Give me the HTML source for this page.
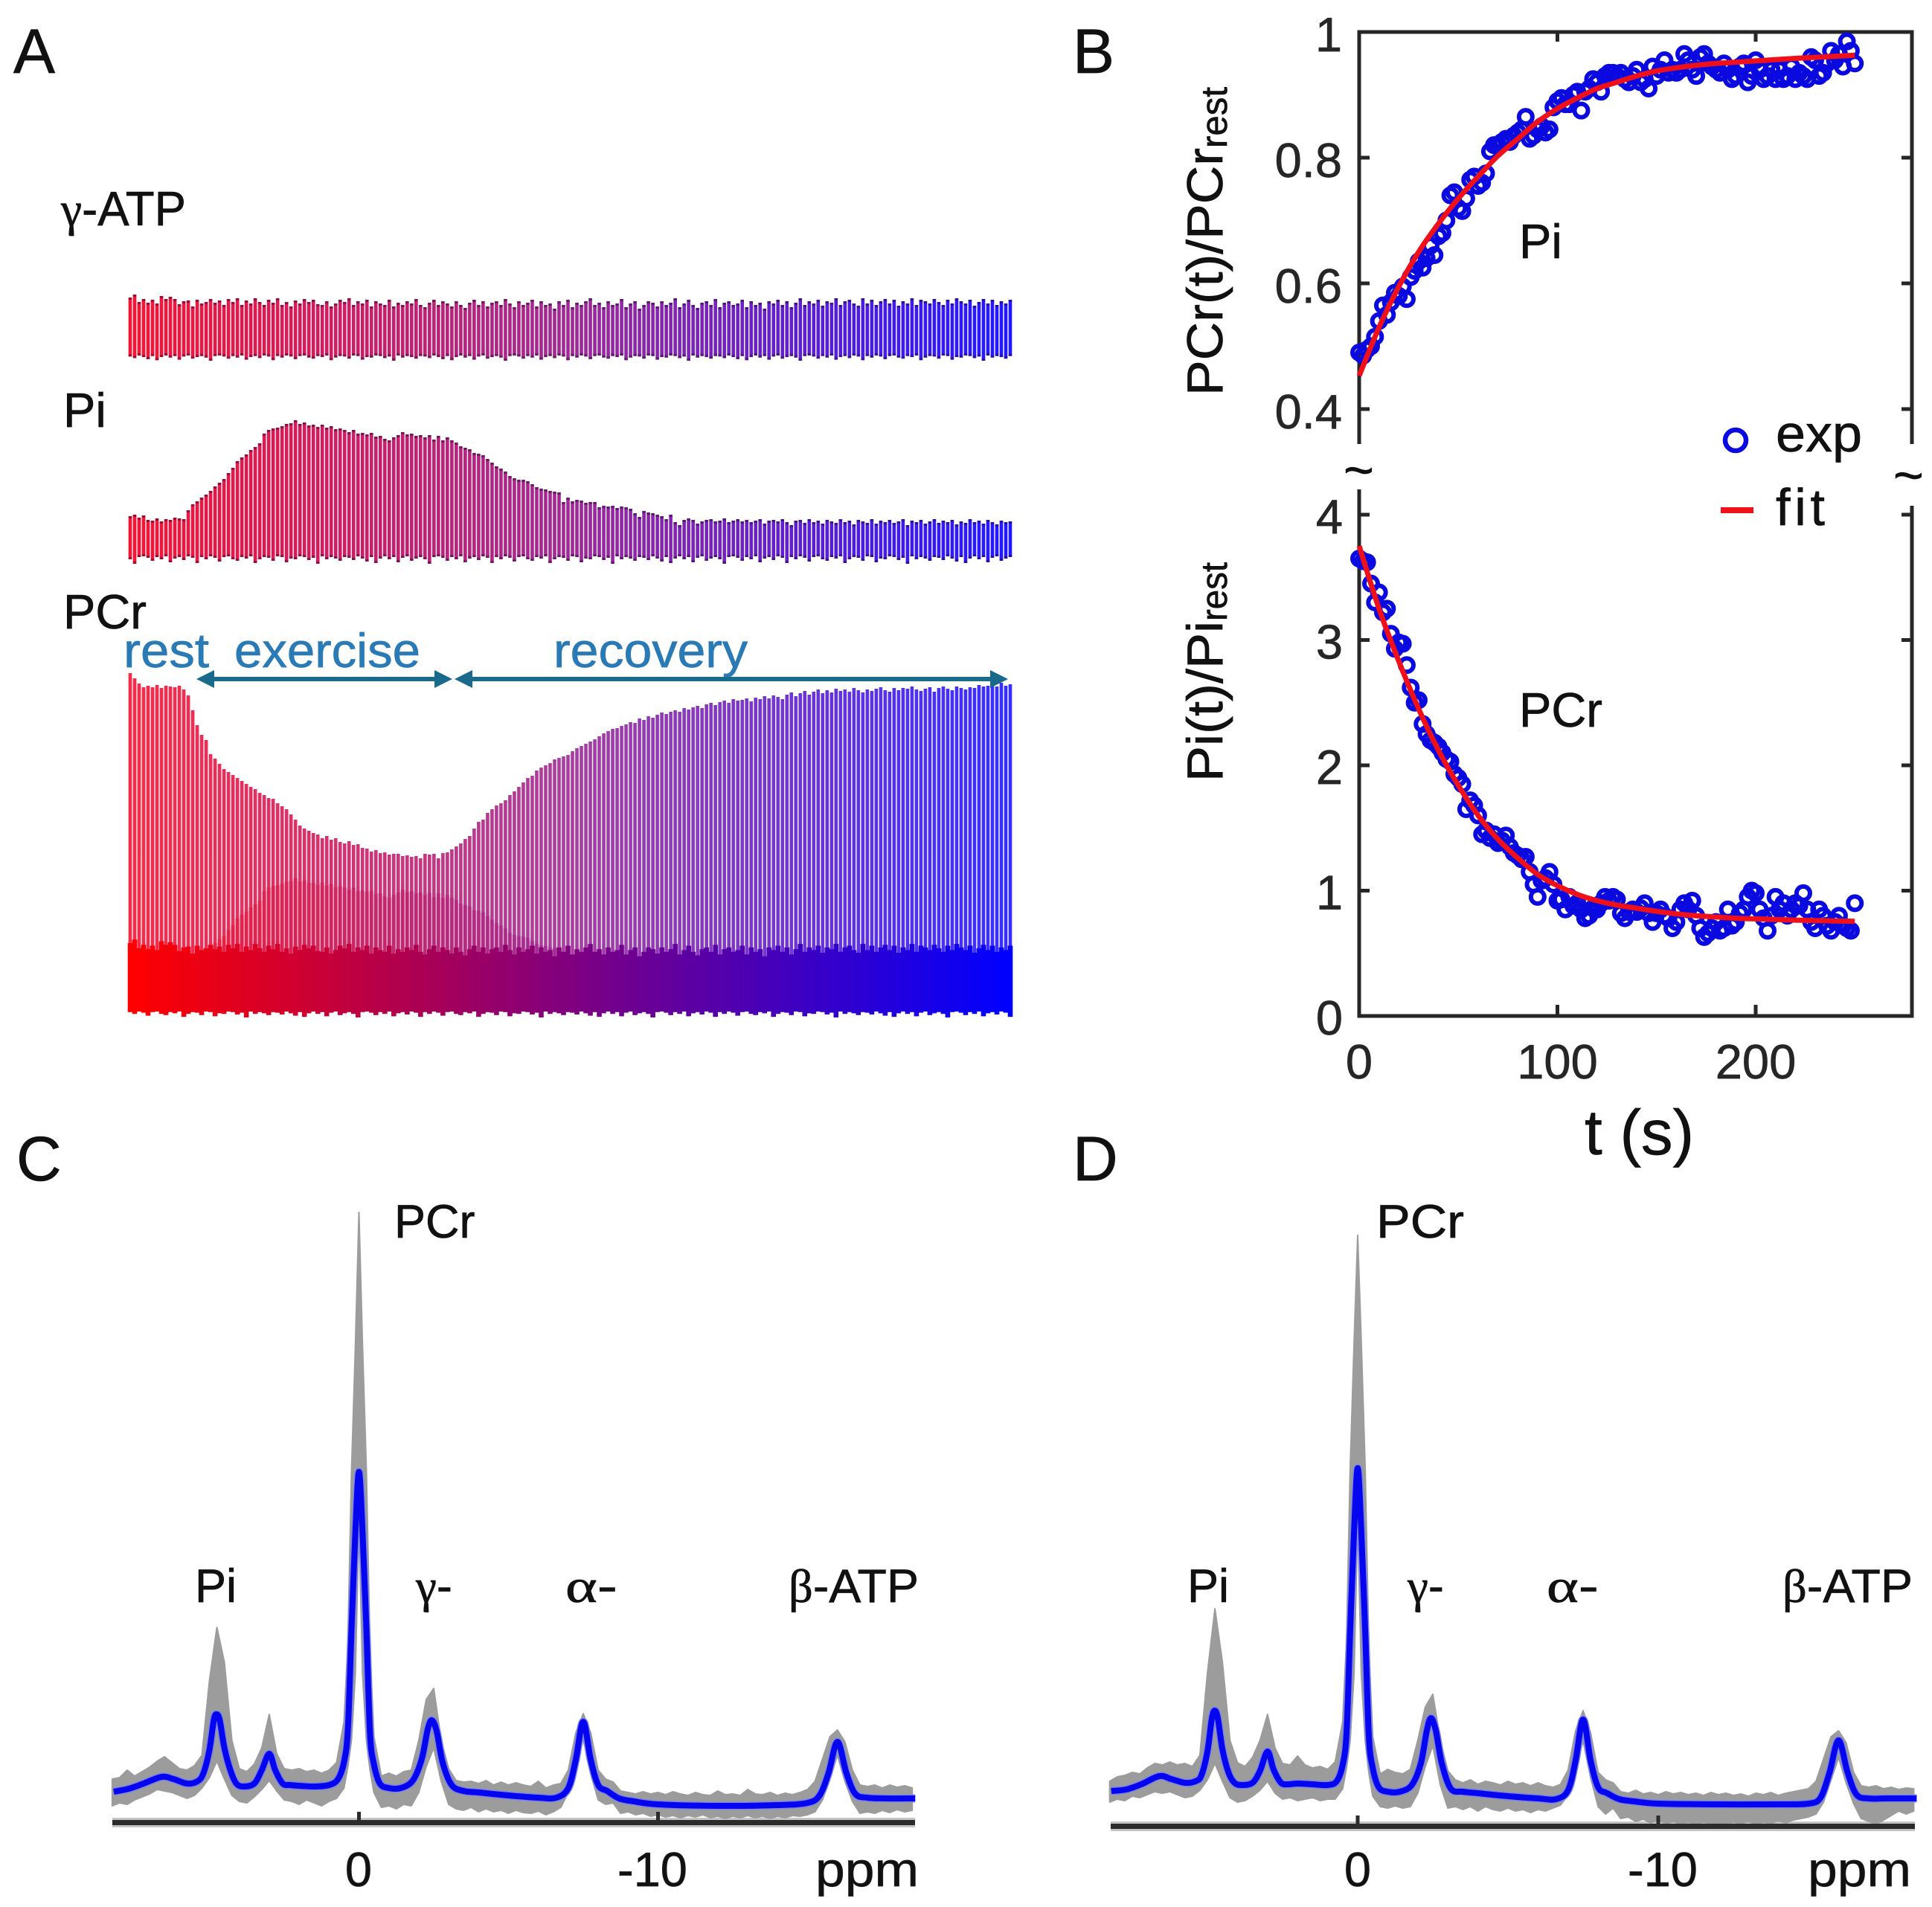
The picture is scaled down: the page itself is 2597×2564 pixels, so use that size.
<!DOCTYPE html>
<html lang="en">
<head>
<meta charset="utf-8">
<title>31P MRS time series and spectra</title>
<style>
html,body{margin:0;padding:0;background:#fff;}
svg{display:block;}
text{font-family:"Liberation Sans",sans-serif;stroke-width:.7;}
.greek{font-family:"Liberation Serif",serif;}
.pl{font-size:63px;fill:#111;stroke:#111;}
.tk{font-size:65px;fill:#262626;stroke:#262626;}
.st{font-size:65px;fill:#111;stroke:#111;}
.ph{font-size:65px;fill:#2a7ab5;stroke:#2a7ab5;}
.pn{font-size:84px;fill:#111;stroke:#111;}
</style>
</head>
<body>
<svg id="fig" xmlns="http://www.w3.org/2000/svg" width="2597" height="2564" viewBox="0 0 2597 2564">
<defs>
<linearGradient id="rb" gradientUnits="userSpaceOnUse" x1="175" y1="0" x2="1358" y2="0">
<stop offset="0" stop-color="#ff0000"/><stop offset="1" stop-color="#0000ff"/>
</linearGradient>
<linearGradient id="rbs" gradientUnits="userSpaceOnUse" x1="175" y1="0" x2="1358" y2="0">
<stop offset="0" stop-color="#ff1030"/><stop offset="0.5" stop-color="#a02898"/><stop offset="1" stop-color="#2018ff"/>
</linearGradient>
</defs>
<rect x="0" y="0" width="2597" height="2564" fill="#ffffff"/>

<text class="pn" x="18" y="98">A</text>
<text class="pn" x="1442" y="98">B</text>
<text class="pn" x="22" y="1587">C</text>
<text class="pn" x="1442" y="1587">D</text>

<g id="panelA"></g>
<text class="st" x="82" y="303" textLength="168" lengthAdjust="spacingAndGlyphs"><tspan class="greek">γ</tspan>-ATP</text>
<text class="st" x="85" y="574">Pi</text>
<text class="st" x="85" y="845">PCr</text>
<text class="ph" x="166" y="897" textLength="115" lengthAdjust="spacingAndGlyphs">rest</text>
<text class="ph" x="315" y="897" textLength="250" lengthAdjust="spacingAndGlyphs">exercise</text>
<text class="ph" x="744" y="897" textLength="261" lengthAdjust="spacingAndGlyphs">recovery</text>
<g fill="#1a6a8c">
<rect x="280" y="910" width="312" height="6"/>
<polygon points="264,913 288,901 288,925"/>
<polygon points="608,913 584,901 584,925"/>
</g>
<g fill="#1a6a8c">
<rect x="625" y="910" width="715" height="6"/>
<polygon points="611,913 635,901 635,925"/>
<polygon points="1355,913 1331,901 1331,925"/>
</g>

<g id="panelB" stroke="#262626" stroke-width="5" fill="none">
<polyline points="1827,597 1827,43 2570,43 2570,597"/>
<polyline points="1827,658 1827,1366 2570,1366 2570,680"/>
</g>
<g id="panelBTicks" stroke="#262626" stroke-width="5"></g>
<g id="panelBLabels"></g>
<g id="scatterUpper"></g>
<g id="scatterLower"></g>
<g id="fits"></g>
<text class="st" transform="translate(1643,532) rotate(-90)" textLength="333" lengthAdjust="spacingAndGlyphs" style="font-size:68px">PCr(t)/PCr</text>
<text class="st" transform="translate(1649,199) rotate(-90)" textLength="82" lengthAdjust="spacingAndGlyphs" style="font-size:49px">rest</text>
<text class="st" transform="translate(1643,1051) rotate(-90)" textLength="216" lengthAdjust="spacingAndGlyphs" style="font-size:68px">Pi(t)/Pi</text>
<text class="st" transform="translate(1649,835) rotate(-90)" textLength="79" lengthAdjust="spacingAndGlyphs" style="font-size:49px">rest</text>
<text class="st" x="2130" y="1552" textLength="147" lengthAdjust="spacingAndGlyphs" style="font-size:85px">t (s)</text>
<text class="st" x="2042" y="347">Pi</text>
<text class="st" x="2042" y="977">PCr</text>
<text class="st" x="1806" y="656" style="font-size:70px">~</text>
<text class="st" x="2545" y="663" style="font-size:70px">~</text>
<circle cx="2333" cy="592" r="14" fill="none" stroke="#0a0ae0" stroke-width="6.5"/>
<text class="st" x="2387" y="607" textLength="116" lengthAdjust="spacingAndGlyphs" style="font-size:70px">exp</text>
<rect x="2313" y="682" width="44" height="8" fill="#f0101a"/>
<text class="st" x="2387" y="706" textLength="66" lengthAdjust="spacing" style="font-size:70px">fit</text>

<g id="panelC"></g>
<g id="panelD"></g>

<text class="pl" x="530" y="1664">PCr</text>
<text class="pl" x="262" y="2154">Pi</text>
<text class="pl" x="559" y="2154"><tspan class="greek">γ</tspan>-</text>
<text class="pl" x="760" y="2154" textLength="70" lengthAdjust="spacingAndGlyphs"><tspan class="greek">α</tspan>-</text>
<text class="pl" x="1060" y="2154" textLength="175" lengthAdjust="spacingAndGlyphs"><tspan class="greek">β</tspan>-ATP</text>
<text class="tk" x="482" y="2536" text-anchor="middle" style="fill:#111">0</text>
<text class="tk" x="830" y="2536" style="fill:#111">-10</text>
<text class="tk" x="1096" y="2536" textLength="139" lengthAdjust="spacingAndGlyphs" style="fill:#111">ppm</text>

<text class="pl" x="1850" y="1664" textLength="118" lengthAdjust="spacingAndGlyphs">PCr</text>
<text class="pl" x="1596" y="2154">Pi</text>
<text class="pl" x="1892" y="2154"><tspan class="greek">γ</tspan>-</text>
<text class="pl" x="2079" y="2154" textLength="70" lengthAdjust="spacingAndGlyphs"><tspan class="greek">α</tspan>-</text>
<text class="pl" x="2396" y="2154" textLength="175" lengthAdjust="spacingAndGlyphs"><tspan class="greek">β</tspan>-ATP</text>
<text class="tk" x="1825" y="2536" text-anchor="middle" style="fill:#111">0</text>
<text class="tk" x="2188" y="2536" style="fill:#111">-10</text>
<text class="tk" x="2430" y="2536" textLength="139" lengthAdjust="spacingAndGlyphs" style="fill:#111">ppm</text>
</svg>

<script>
/* ---------- Panel A: stem heights, one per acquisition ---------- */
const gammaHeights = [78,82,72,76,71,75,70,80,76,79,76,69,73,74,66,75,70,72,76,71,74,68,76,72,77,68,74,70,77,72,68,75,71,77,68,72,66,74,70,76,72,75,69,68,73,66,70,75,72,77,68,73,70,75,66,73,70,68,75,66,71,68,73,70,76,68,65,71,75,68,73,70,66,73,68,64,71,75,68,73,66,71,73,68,76,70,65,73,68,71,75,66,73,68,70,63,73,68,75,65,71,68,73,77,68,71,65,73,68,70,76,65,70,73,63,68,73,71,66,73,68,71,77,65,70,75,68,64,71,73,68,76,65,71,73,68,70,75,65,73,68,71,63,73,70,75,68,73,65,71,77,68,73,70,75,67,73,71,77,68,73,75,70,67,77,70,75,68,73,76,70,75,67,73,70,77,68,75,73,70,76,72,68,75,70,77,73,70,75,67,72,76,70,75,68,73,70,75];
const piHeights = [54,56,52,55,49,48,51,47,50,49,52,51,50,62,70,74,79,83,88,94,99,104,112,119,128,133,137,143,147,152,165,170,172,173,175,178,179,183,178,180,176,177,174,177,173,175,171,172,170,167,170,165,166,164,166,161,162,158,156,160,163,167,164,165,162,163,160,163,157,162,156,160,156,153,148,146,144,139,138,136,131,126,121,118,114,108,105,103,103,101,97,93,91,90,88,87,86,73,79,74,76,75,72,73,73,66,68,67,68,65,67,66,64,58,53,61,59,58,56,54,50,56,46,42,49,51,49,44,47,49,50,47,48,51,46,48,50,47,49,46,48,50,44,48,49,47,50,46,42,48,49,45,50,46,48,44,49,47,45,50,46,48,43,49,47,45,50,44,48,46,49,45,47,50,42,48,46,49,44,47,50,45,48,46,49,43,47,45,50,46,48,44,49,46,43,48,46,47];
const pcrHeights = [455,448,441,436,438,436,439,435,438,437,436,438,433,425,405,385,372,365,346,340,333,326,322,318,314,310,306,302,299,294,291,287,286,280,276,272,265,258,250,246,243,240,238,233,236,231,233,228,226,229,224,225,220,219,215,217,213,214,211,212,212,209,210,208,209,206,212,211,212,206,213,214,218,222,226,232,236,246,255,258,267,272,277,280,284,291,296,302,308,314,317,324,328,331,334,339,341,343,345,350,354,357,360,363,366,370,374,377,380,381,384,386,389,388,394,392,397,395,399,402,400,403,405,403,408,406,409,411,408,413,415,412,416,418,415,420,418,419,421,417,422,420,424,421,425,423,420,426,429,424,428,431,426,430,433,428,432,429,434,431,433,430,435,432,429,433,431,434,436,432,430,435,432,435,434,437,433,431,434,436,430,435,437,434,432,437,435,433,436,435,439,437,438,441,437,442,438,440];
const stemFloor = [2,5,0,3,7,1,9,3,0,4,1,8,2,0,6,3,1,4,10,1,0,2,6,1,4,0,8,3,1,5,0,2,9,1,4,0,2,7,1,0,4,6,1,3,0,9,4,1,2,6,0,1,8,3,4,0,1,5,2,10,0,4,1,3,6,1];

/* ---------- Panel B: recovery data (t = 0, 2, 4 ... 250 s) ---------- */
const recoveryStep = [2];
const piRatio = [.49,.485,.495,.50,.515,.54,.565,.55,.57,.585,.58,.595,.575,.61,.62,.635,.625,.64,.66,.645,.675,.68,.70,.74,.745,.72,.715,.735,.765,.77,.755,.76,.775,.81,.82,.82,.825,.83,.825,.835,.84,.845,.865,.83,.835,.845,.85,.84,.845,.88,.89,.895,.885,.885,.90,.905,.875,.905,.91,.925,.92,.905,.93,.935,.935,.93,.935,.925,.92,.93,.94,.92,.925,.91,.945,.93,.94,.955,.935,.94,.935,.94,.965,.955,.94,.93,.96,.965,.95,.945,.94,.935,.95,.94,.925,.93,.945,.95,.92,.93,.955,.94,.925,.93,.94,.925,.94,.925,.93,.945,.925,.935,.93,.925,.96,.955,.93,.935,.95,.97,.955,.965,.945,.985,.97,.95];
const pcrRatio = [3.65,3.63,3.62,3.45,3.3,3.38,3.22,3.25,3.05,2.93,2.98,2.97,2.8,2.62,2.5,2.52,2.33,2.25,2.2,2.18,2.15,2.1,2.05,2.03,1.93,1.9,1.85,1.65,1.72,1.68,1.6,1.45,1.48,1.42,1.45,1.38,1.4,1.44,1.35,1.3,1.28,1.25,1.27,1.15,1.05,.95,1.08,1.1,1.15,1.05,.92,.93,.85,.95,.88,.9,.85,.78,.8,.86,.85,.9,.95,.92,.95,.93,.82,.78,.83,.85,.83,.86,.9,.82,.75,.82,.85,.8,.78,.7,.75,.85,.9,.85,.92,.8,.7,.63,.66,.7,.75,.68,.7,.85,.72,.75,.82,.85,.95,1.0,.98,.85,.78,.68,.8,.95,.85,.9,.8,.85,.9,.88,.98,.85,.75,.7,.85,.8,.72,.68,.75,.8,.72,.7,.68,.9];
const fitTimes = [0,10,20,30,40,50,60,70,80,90,100,110,120,130,140,150,160,170,180,190,200,220,250];
const piFit = [.453,.53,.595,.65,.695,.735,.77,.803,.83,.857,.878,.895,.91,.92,.93,.938,.943,.947,.95,.952,.954,.958,.963];
const pcrFit = [3.75,3.25,2.83,2.45,2.12,1.84,1.6,1.41,1.26,1.13,1.04,.97,.92,.885,.86,.835,.815,.80,.79,.78,.775,.765,.755];
const upperYTicks = [0.4,0.6,0.8,1];
const upperYTickLabels = ["0.4","0.6","0.8","1"];
const lowerYTicks = [0,1,2,3,4];
const lowerYTickLabels = ["0","1","2","3","4"];
const xTicks = [0,100,200];
const xTickLabels = ["0","100","200"];

/* ---------- Panels C and D: spectra (chemical shift in ppm) ---------- */
const meanPpm = [8.2,7.7,7.2,6.6,6.2,5.75,5.4,5.2,5.0,4.85,4.75,4.65,4.5,4.3,4.1,3.85,3.5,3.25,3.0,2.8,2.55,2.3,2.0,1.5,1.0,.7,.5,.37,.25,.12,0,-.12,-.25,-.37,-.5,-.7,-1,-1.4,-1.8,-2.1,-2.3,-2.44,-2.6,-2.8,-3.1,-3.5,-4,-5,-6,-6.6,-7,-7.25,-7.5,-7.75,-8,-8.3,-8.7,-9.2,-10,-12,-14,-15,-15.4,-15.7,-16,-16.3,-16.6,-17,-17.6,-18.6];
const meanC = [41,45,52,61,58,52,55,66,97,138,145,136,100,70,52,48,52,70,92,70,52,50,49,48,50,58,81,125,258,390,471,390,258,120,78,52,46,46,56,85,125,137,122,80,50,42,40,36,33,33,46,84,135,84,50,42,32,28,24,22,23,26,36,66,108,66,38,33,32,32];
const meanD = [47,49,56,67,63,58,60,68,100,145,155,144,103,72,58,55,58,74,100,76,58,56,57,56,55,60,82,126,262,396,481,396,262,122,78,52,46,46,55,84,128,145,128,84,50,46,44,40,37,36,48,88,143,88,52,44,36,33,30,29,29,30,38,72,115,72,42,37,37,37];
const bandPpm = [8.25,8,7.75,7.5,7.25,7,6.75,6.5,6.25,6,
5.75,5.5,5.25,5,4.75,4.5,4.25,4,3.75,3.5,
3.25,3,2.75,2.5,2.25,2,1.75,1.5,1.25,1,
.75,.5,.37,.25,.12,0,-.12,-.25,-.37,-.5,
-.75,-1,-1.25,-1.5,-1.75,-2,-2.25,-2.5,-2.75,-3,
-3.25,-3.5,-3.75,-4,-4.25,-4.5,-4.75,-5,-5.25,-5.5,
-5.75,-6,-6.25,-6.5,-6.75,-7,-7.25,-7.5,-7.75,-8,
-8.25,-8.5,-8.75,-9,-9.25,-9.5,-9.75,-10,-10.25,-10.5,
-10.75,-11,-11.25,-11.5,-11.75,-12,-12.25,-12.5,-12.75,-13,
-13.25,-13.5,-13.75,-14,-14.25,-14.5,-14.75,-15,-15.25,-15.5,
-15.75,-16,-16.25,-16.5,-16.75,-17,-17.25,-17.5,-17.75,-18,
-18.25,-18.5];
const upperC = [58,60,70,62,68,74,82,88,80,72,
70,76,90,190,262,215,110,72,68,78,
100,145,92,72,70,72,68,70,66,70,
80,135,240,470,640,820,640,470,230,115,
62,66,62,68,70,110,165,180,110,72,
56,54,55,52,56,50,54,50,53,50,
48,55,46,50,52,70,120,146,120,70,
58,54,42,40,38,41,38,40,37,41,
38,36,40,37,36,42,37,38,36,44,
38,37,40,36,39,37,40,44,55,85,
115,124,108,70,50,48,50,46,50,47,
49,46];
const lowerC = [22,26,24,30,34,38,44,42,40,36,
32,36,46,60,82,58,36,28,26,34,
44,56,42,30,28,24,30,26,22,28,
32,46,75,110,200,405,200,110,70,40,
20,22,18,24,22,40,75,100,55,24,
18,16,20,14,18,14,16,12,16,13,
12,15,10,14,20,40,70,112,65,30,
24,26,12,14,10,12,8,10,7,9,
6,9,7,10,6,8,5,8,6,9,
6,8,5,8,6,9,8,10,14,30,
60,90,55,28,12,14,12,16,13,17,
14,16];
const upperD = [60,66,68,72,70,78,84,82,86,82,
84,80,95,205,292,220,115,85,80,92,
115,150,105,84,82,94,82,78,80,76,
86,140,250,480,650,794,650,480,240,120,
70,76,72,70,76,115,160,177,115,74,
62,58,62,56,60,58,55,60,56,58,
54,58,54,52,56,75,128,155,125,72,
62,58,46,44,48,43,45,42,46,43,
45,42,44,41,45,42,44,41,43,40,
44,42,45,41,44,46,48,50,60,90,
120,128,112,72,54,52,54,50,52,49,
51,50];
const lowerD = [32,36,34,40,38,42,46,44,46,42,
38,40,48,62,84,60,38,32,34,40,
48,60,44,36,38,34,36,38,34,36,
36,50,78,115,205,415,205,115,72,40,
26,24,27,24,26,44,80,108,55,24,
26,22,26,20,26,22,20,24,20,22,
18,22,20,24,28,42,75,115,65,26,
16,24,10,12,6,9,4,8,3,6,
2,5,2,5,3,4,2,5,3,6,
2,5,3,7,4,8,10,12,16,32,
62,92,58,30,10,6,2,8,14,20,
16,20];
const ppmTicks = [0,-10];

const NS = "http://www.w3.org/2000/svg";
function node(tag, parent){ const el = document.createElementNS(NS, tag); parent.appendChild(el); return el; }
function smoothPath(pts){
  let d = "M" + pts[0][0] + " " + pts[0][1];
  for (let i = 0; i < pts.length - 1; i++) {
    const p0 = pts[Math.max(0, i - 1)], p1 = pts[i], p2 = pts[i + 1], p3 = pts[Math.min(pts.length - 1, i + 2)];
    d += "C" + (p1[0] + (p2[0] - p0[0]) / 6) + " " + (p1[1] + (p2[1] - p0[1]) / 6) + " " +
         (p2[0] - (p3[0] - p1[0]) / 6) + " " + (p2[1] - (p3[1] - p1[1]) / 6) + " " + p2[0] + " " + p2[1];
  }
  return d;
}

/* axis functions */
const xStem = (i, n) => 175 + i * (1183 / (n - 1));
const yGamma = v => 478 - v;
const yPi = v => 748 - v;
const yStack = v => 1360 - v;
const xTime = t => 1827 + t * 2.665;
const yUpper = v => 43 + (1 - v) * 845;
const yLower = v => 1366 - v * 168.5;
const xC = p => 482.5 - p * 40.2;
const yC = v => 2450 - v;
const xD = p => 1825 - p * 40.4;
const yD = v => 2455 - v;

/* Panel A */
const panelA = document.getElementById("panelA");
const gammaGroup = node("g", panelA);


let gammaCaps = "";
gammaHeights.forEach((v, i) => {
  const el = node("rect", gammaGroup);
  const bottom = yGamma(0) + stemFloor[i % stemFloor.length] * 0.7;
  const x = xStem(i, gammaHeights.length);
  el.setAttribute("x", x - 2.3);
  el.setAttribute("y", yGamma(v));
  el.setAttribute("width", 4.6);
  el.setAttribute("height", bottom - yGamma(v));
  el.setAttribute("fill", "url(#rbs)");
  
  
  gammaCaps += "M" + (x - 2.3) + " " + yGamma(v) + "h4.6v3h-4.6zM" + (x - 2.3) + " " + (bottom - 3) + "h4.6v3h-4.6z";
});
const gammaCapPath = node("path", gammaGroup);
gammaCapPath.setAttribute("d", gammaCaps);
gammaCapPath.setAttribute("fill", "#200030");
gammaCapPath.setAttribute("fill-opacity", "0.4");



const piGroup = node("g", panelA);


let piCaps = "";
piHeights.forEach((v, i) => {
  const el = node("rect", piGroup);
  const bottom = yPi(0) + stemFloor[(i + 17) % stemFloor.length];
  const x = xStem(i, piHeights.length);
  el.setAttribute("x", x - 2.3);
  el.setAttribute("y", yPi(v));
  el.setAttribute("width", 4.6);
  el.setAttribute("height", bottom - yPi(v));
  el.setAttribute("fill", "url(#rbs)");
  
  
  piCaps += "M" + (x - 2.3) + " " + yPi(v) + "h4.6v3h-4.6zM" + (x - 2.3) + " " + (bottom - 3) + "h4.6v3h-4.6z";
});
const piCapPath = node("path", piGroup);
piCapPath.setAttribute("d", piCaps);
piCapPath.setAttribute("fill", "#200030");
piCapPath.setAttribute("fill-opacity", "0.4");



const pcrGroup = node("g", panelA);


pcrHeights.forEach((v, i) => {
  const el = node("rect", pcrGroup);
  el.setAttribute("x", xStem(i, pcrHeights.length) - 2.3);
  el.setAttribute("y", yStack(v));
  el.setAttribute("width", 4.6);
  el.setAttribute("height", v);
  el.setAttribute("fill", "url(#rbs)");
  el.setAttribute("fill-opacity", "0.9");
  
  
});
const overlayPi = node("g", panelA);


piHeights.forEach((v, i) => {
  const el = node("rect", overlayPi);
  el.setAttribute("x", xStem(i, piHeights.length) - 3);
  el.setAttribute("y", yStack(v * 0.98));
  el.setAttribute("width", 6);
  el.setAttribute("height", v * 0.98);
  el.setAttribute("fill", "url(#rb)");
  el.setAttribute("fill-opacity", "0.28");
  
  
});
const overlayGamma = node("g", panelA);


gammaHeights.forEach((v, i) => {
  const el = node("rect", overlayGamma);
  const h = v * 1.18;
  const bottom = yStack(0) + stemFloor[(i + 33) % stemFloor.length] * 0.8;
  el.setAttribute("x", xStem(i, gammaHeights.length) - 3.3);
  el.setAttribute("y", yStack(h));
  el.setAttribute("width", 6.6);
  el.setAttribute("height", bottom - yStack(h));
  el.setAttribute("fill", "url(#rb)");
  
  
});

/* Panel B ticks and labels */
const tickGroup = document.getElementById("panelBTicks");
const labelGroup = document.getElementById("panelBLabels");
upperYTicks.forEach((v, i) => {
  if (v < 1) {
    const l = node("path", tickGroup);
    l.setAttribute("d", "M1827 " + yUpper(v) + "h14M2570 " + yUpper(v) + "h-14");
    
    
  }
  const t = node("text", labelGroup);
  t.setAttribute("x", 1804);
  t.setAttribute("y", yUpper(v) + 26);
  t.setAttribute("text-anchor", "end");
  t.setAttribute("class", "tk");
  t.textContent = upperYTickLabels[i];
  
  
});
lowerYTicks.forEach((v, i) => {
  if (v > 0) {
    const l = node("path", tickGroup);
    l.setAttribute("d", "M1827 " + yLower(v) + "h14M2570 " + yLower(v) + "h-14");
    
    
  }
  const t = node("text", labelGroup);
  t.setAttribute("x", 1805);
  t.setAttribute("y", yLower(v) + 25);
  t.setAttribute("text-anchor", "end");
  t.setAttribute("class", "tk");
  t.textContent = lowerYTickLabels[i];
  
  
});
xTicks.forEach((v, i) => {
  if (v > 0) {
    const l = node("path", tickGroup);
    l.setAttribute("d", "M" + xTime(v) + " 1366v-15M" + xTime(v) + " 43v13");
    
    
  }
  const t = node("text", labelGroup);
  t.setAttribute("x", xTime(v));
  t.setAttribute("y", 1450);
  t.setAttribute("text-anchor", "middle");
  t.setAttribute("class", "tk");
  t.textContent = xTickLabels[i];
  
  
});

/* Panel B scatter */
const scatterUpper = document.getElementById("scatterUpper");
piRatio.forEach((v, i) => {
  const c = node("circle", scatterUpper);
  c.setAttribute("cx", xTime(i * recoveryStep[0]));
  c.setAttribute("cy", yUpper(v));
  c.setAttribute("r", 9);
  c.setAttribute("fill", "none");
  c.setAttribute("stroke", "#0a0ae0");
  c.setAttribute("stroke-width", 6);
  
  
});
const scatterLower = document.getElementById("scatterLower");
pcrRatio.forEach((v, i) => {
  const c = node("circle", scatterLower);
  c.setAttribute("cx", xTime(i * recoveryStep[0]));
  c.setAttribute("cy", yLower(v));
  c.setAttribute("r", 9);
  c.setAttribute("fill", "none");
  c.setAttribute("stroke", "#0a0ae0");
  c.setAttribute("stroke-width", 6);
  
  
});

/* Panel B fits */
const fits = document.getElementById("fits");
const fitUp = node("path", fits);
fitUp.setAttribute("d", smoothPath(fitTimes.map((t, i) => [xTime(t), yUpper(piFit[i])])));
fitUp.setAttribute("fill", "none");
fitUp.setAttribute("stroke", "#f0101a");
fitUp.setAttribute("stroke-width", 7);


const fitDown = node("path", fits);
fitDown.setAttribute("d", smoothPath(fitTimes.map((t, i) => [xTime(t), yLower(pcrFit[i])])));
fitDown.setAttribute("fill", "none");
fitDown.setAttribute("stroke", "#f0101a");
fitDown.setAttribute("stroke-width", 7);



/* Panel C */
const panelC = document.getElementById("panelC");
const axisShadeC = node("rect", panelC);
axisShadeC.setAttribute("x", 151);
axisShadeC.setAttribute("y", 2444);
axisShadeC.setAttribute("width", 1079);
axisShadeC.setAttribute("height", 13);
axisShadeC.setAttribute("fill", "#c4c4c4");


const bandC = node("polygon", panelC);
bandC.setAttribute("points",
  bandPpm.map((p, i) => xC(p) + "," + yC(upperC[i])).concat(
  bandPpm.map((p, i) => xC(p) + "," + yC(lowerC[i])).reverse()).join(" "));
bandC.setAttribute("fill", "#9c9c9c");
bandC.setAttribute("stroke", "#9c9c9c");
bandC.setAttribute("stroke-width", "2");
bandC.setAttribute("stroke-linejoin", "round");


const axisC = node("rect", panelC);
axisC.setAttribute("x", 151);
axisC.setAttribute("y", 2447);
axisC.setAttribute("width", 1079);
axisC.setAttribute("height", 7);
axisC.setAttribute("fill", "#2b2b2b");


ppmTicks.forEach(p => {
  const tk = node("rect", panelC);
  tk.setAttribute("x", xC(p) - 2.5);
  tk.setAttribute("y", 2436);
  tk.setAttribute("width", 5);
  tk.setAttribute("height", 12);
  tk.setAttribute("fill", "#2b2b2b");
  
  
});
const haloC = node("path", panelC);
haloC.setAttribute("d", smoothPath(meanPpm.map((p, i) => [xC(p), yC(meanC[i])])));
haloC.setAttribute("fill", "none");
haloC.setAttribute("stroke", "#7f86e0");
haloC.setAttribute("stroke-width", 11);
haloC.setAttribute("stroke-linejoin", "round");


const lineC = node("path", panelC);
lineC.setAttribute("d", smoothPath(meanPpm.map((p, i) => [xC(p), yC(meanC[i])])));
lineC.setAttribute("fill", "none");
lineC.setAttribute("stroke", "#0505f0");
lineC.setAttribute("stroke-width", 8);
lineC.setAttribute("stroke-linejoin", "round");



/* Panel D */
const panelD = document.getElementById("panelD");
const axisShadeD = node("rect", panelD);
axisShadeD.setAttribute("x", 1493);
axisShadeD.setAttribute("y", 2449);
axisShadeD.setAttribute("width", 1081);
axisShadeD.setAttribute("height", 13);
axisShadeD.setAttribute("fill", "#c4c4c4");


const bandD = node("polygon", panelD);
bandD.setAttribute("points",
  bandPpm.map((p, i) => xD(p) + "," + yD(upperD[i])).concat(
  bandPpm.map((p, i) => xD(p) + "," + yD(lowerD[i])).reverse()).join(" "));
bandD.setAttribute("fill", "#9c9c9c");
bandD.setAttribute("stroke", "#9c9c9c");
bandD.setAttribute("stroke-width", "2");
bandD.setAttribute("stroke-linejoin", "round");


const axisD = node("rect", panelD);
axisD.setAttribute("x", 1493);
axisD.setAttribute("y", 2452);
axisD.setAttribute("width", 1081);
axisD.setAttribute("height", 7);
axisD.setAttribute("fill", "#2b2b2b");


ppmTicks.forEach(p => {
  const tk = node("rect", panelD);
  tk.setAttribute("x", xD(p) - 2.5);
  tk.setAttribute("y", 2441);
  tk.setAttribute("width", 5);
  tk.setAttribute("height", 12);
  tk.setAttribute("fill", "#2b2b2b");
  
  
});
const haloD = node("path", panelD);
haloD.setAttribute("d", smoothPath(meanPpm.map((p, i) => [xD(p), yD(meanD[i])])));
haloD.setAttribute("fill", "none");
haloD.setAttribute("stroke", "#7f86e0");
haloD.setAttribute("stroke-width", 11);
haloD.setAttribute("stroke-linejoin", "round");


const lineD = node("path", panelD);
lineD.setAttribute("d", smoothPath(meanPpm.map((p, i) => [xD(p), yD(meanD[i])])));
lineD.setAttribute("fill", "none");
lineD.setAttribute("stroke", "#0505f0");
lineD.setAttribute("stroke-width", 8);
lineD.setAttribute("stroke-linejoin", "round");


</script>
</body>
</html>
